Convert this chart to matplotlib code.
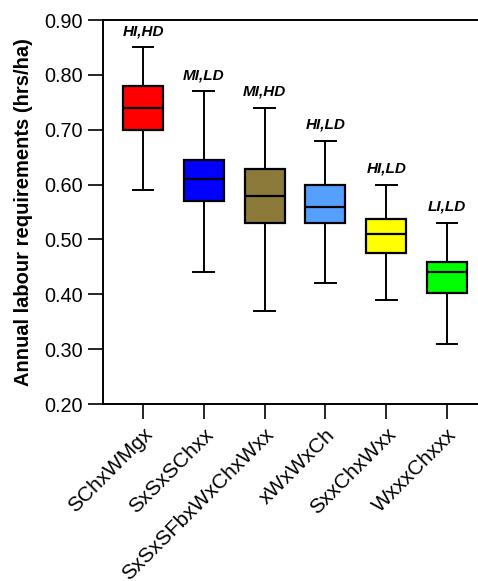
import matplotlib
matplotlib.use("Agg")
import matplotlib.pyplot as plt

categories = ["SChxWMgx", "SxSxSChxx", "SxSxSFbxWxChxWxx", "xWxWxCh", "SxxChxWxx", "WxxxChxxx"]
whislo = [0.59, 0.44, 0.37, 0.42, 0.39, 0.31]
q1 = [0.70, 0.57, 0.53, 0.53, 0.475, 0.402]
med = [0.74, 0.61, 0.58, 0.56, 0.51, 0.44]
q3 = [0.78, 0.645, 0.629, 0.599, 0.538, 0.459]
whishi = [0.85, 0.77, 0.74, 0.68, 0.60, 0.53]
annotations = ["HI,HD", "MI,LD", "MI,HD", "HI,LD", "HI,LD", "LI,LD"]
colors = ["#FF0000", "#0000FF", "#8B7A3A", "#55A0FF", "#FFFF00", "#00FF00"]
yticks = [0.20, 0.30, 0.40, 0.50, 0.60, 0.70, 0.80, 0.90]

plt.rcParams['font.family'] = ['Liberation Sans', 'DejaVu Sans']

fig = plt.figure(figsize=(4.78, 5.81), dpi=100)
ax = fig.add_axes([103/478, 1 - 404/581, 375/478, 384/581])

stats = []
for i in range(len(categories)):
    stats.append(dict(whislo=whislo[i], q1=q1[i], med=med[i], q3=q3[i],
                      whishi=whishi[i], fliers=[], label=categories[i]))

positions = list(range(1, len(categories) + 1))
bp = ax.bxp(stats, positions=positions, widths=0.66, patch_artist=True,
            showfliers=False,
            boxprops=dict(linewidth=1.6, edgecolor='black'),
            medianprops=dict(color='black', linewidth=1.6),
            whiskerprops=dict(color='black', linewidth=1.4),
            capprops=dict(color='black', linewidth=1.4),
            capwidths=0.34)
for patch, c in zip(bp['boxes'], colors):
    patch.set_facecolor(c)

for x, top, txt in zip(positions, whishi, annotations):
    ax.annotate(txt, (x, top), xytext=(0, 6.5), textcoords='offset points',
                ha='center', va='bottom', fontsize=11, fontweight='bold',
                fontstyle='italic')

ax.set_ylim(0.20, 0.90)
ax.set_xlim(1 - 40/60.8, 6 + 31/60.8)
ax.set_yticks(yticks)
ax.set_yticklabels([f"{v:.2f}" for v in yticks], fontsize=14.3)
ax.set_xticks(positions)
ax.set_xticklabels(categories, rotation=45, ha='right', rotation_mode='anchor',
                   fontsize=15)
ax.tick_params(axis='both', direction='out', length=11, width=1.2, color='black')
ax.tick_params(axis='x', pad=4)
ax.set_ylabel("Annual labour requirements (hrs/ha)", fontsize=14.5,
              fontweight='bold', labelpad=8)
ax.spines['right'].set_visible(False)
for s in ['left', 'bottom', 'top']:
    ax.spines[s].set_linewidth(1.4)

fig.savefig("out.png", dpi=100)
